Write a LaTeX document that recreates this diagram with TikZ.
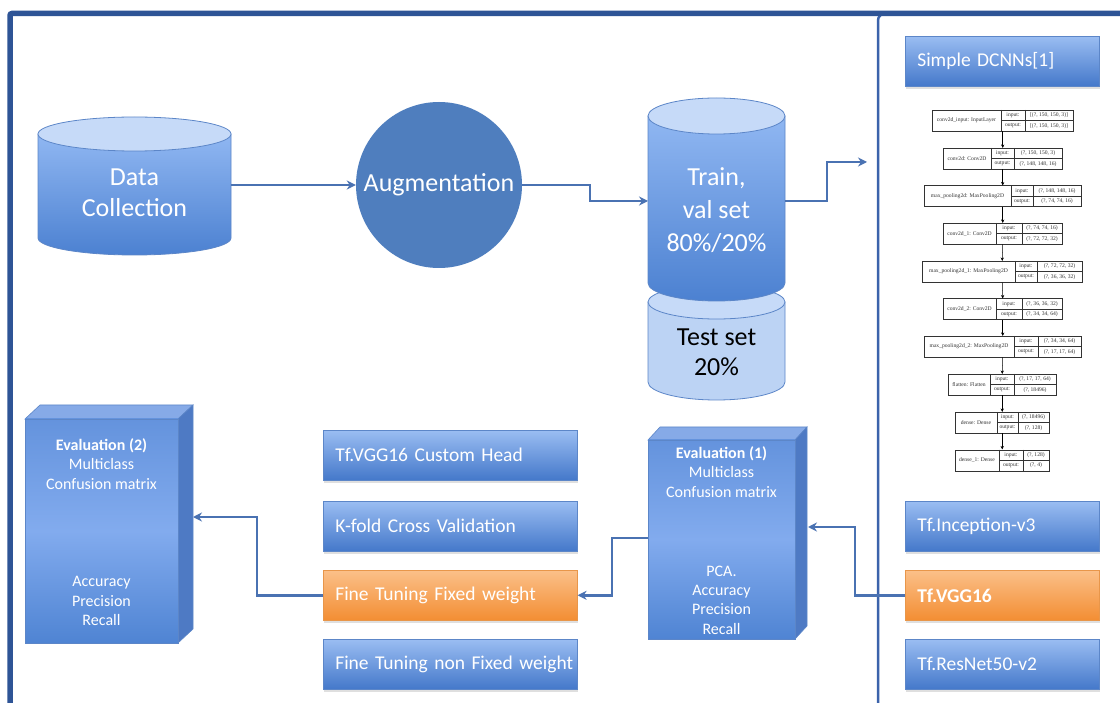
\documentclass[tikz,border=0pt]{standalone}
\usepackage{fontspec}
\setmainfont{Carlito}
\newfontfamily\kfont{Liberation Serif}
\usetikzlibrary{arrows.meta,shadows}
\definecolor{frameblue}{HTML}{2E5496}
\definecolor{divblue}{HTML}{3B63AB}
\definecolor{conncol}{HTML}{4A72B2}
\definecolor{boxtop}{HTML}{9ABDF2}
\definecolor{boxbot}{HTML}{4478CA}
\definecolor{boxedge}{HTML}{5C86C8}
\definecolor{ortop}{HTML}{FBC089}
\definecolor{orbot}{HTML}{F38E33}
\definecolor{oredge}{HTML}{E8964A}
\definecolor{augblue}{HTML}{4F7EBE}
\definecolor{cyllt}{HTML}{C6DAF8}
\definecolor{cyledge}{HTML}{5C86C8}
\definecolor{cyltop}{HTML}{90B7F2}
\definecolor{cylbot}{HTML}{4C81D1}
\definecolor{testbody}{HTML}{BCD3F4}
\definecolor{evtop}{HTML}{6493DD}
\definecolor{evmid}{HTML}{82ABEE}
\definecolor{evbot}{HTML}{4F84D3}
\definecolor{evside}{HTML}{4E7AC4}
\definecolor{evlid}{HTML}{86AAE7}
\definecolor{kcol}{HTML}{333333}
\tikzset{
  conn/.style={draw=conncol, line width=2.5pt, -{Stealth[length=9pt,width=9pt]}},
  bbox/.style={rectangle, draw=boxedge, line width=0.6pt, top color=boxtop, bottom color=boxbot,
    text=white, font=\fontsize{19.5}{23}\selectfont, align=left, inner xsep=12pt, inner ysep=0pt,
    minimum height=50pt, anchor=north west,
    drop shadow={shadow xshift=0.5pt, shadow yshift=-3pt, opacity=0.25}},
  wbox/.style={bbox, text width=170pt},
  mbox/.style={bbox, text width=230pt},
  orbox/.style={top color=ortop, bottom color=orbot, draw=oredge},
  bigtext/.style={text=white, align=center, font=\fontsize{26}{31}\selectfont},
  evtext/.style={text=white, align=center, font=\fontsize{16}{19.3}\selectfont},
  evface/.style={draw=boxedge, line width=0.6pt},
  cylbody/.style={draw=cyledge, line width=0.8pt, top color=cyltop, bottom color=cylbot},
  cyllid/.style={draw=cyledge, line width=0.8pt, fill=cyllt},
  kline/.style={draw=kcol, line width=0.45pt},
  ktext/.style={text=kcol, font=\kfont\fontsize{5.6}{6}\selectfont, inner sep=0pt},
  kcell/.style={draw=kcol, line width=0.45pt, fill=white, inner sep=0pt, anchor=north west},
  karrow/.style={draw=black, line width=0.5pt, -{Stealth[length=3.5pt,width=3.2pt]}},
}
\newcommand{\kbox}[9]{%
  \node[kcell, minimum width={(#6-#3)*1pt}, minimum height=21pt] (#1) at (#3,#2) {};
  \draw[kline] (#4,#2) -- (#4,{#2+21});
  \draw[kline] (#5,#2) -- (#5,{#2+21});
  \draw[kline] (#4,{#2+10.5}) -- (#6,{#2+10.5});
  \node[ktext] (#1n) at ({(#3+#4)/2},{#2+10.5}) {#7};
  \node[ktext] (#1il) at ({(#4+#5)/2},{#2+5.25}) {input:};
  \node[ktext] (#1ol) at ({(#4+#5)/2},{#2+15.75}) {output:};
  \node[ktext] (#1iv) at ({(#5+#6)/2},{#2+5.25}) {#8};
  \node[ktext] (#1ov) at ({(#5+#6)/2},{#2+15.75}) {#9};
}
\begin{document}
\begin{tikzpicture}[x=1pt,y=-1pt]
\useasboundingbox (0,0) rectangle (1120,703);
\fill[white] (0,0) rectangle (1120,703);

% frame and divider
\draw[divblue, line width=2.5pt, rounded corners=7pt] (895,13.5) -- (878,13.5) -- (878,710);
\draw[frameblue, line width=5.5pt, rounded corners=2pt] (1130,13.5) -- (10,13.5) -- (10,710);

% Data Collection cylinder
\path[cylbody] (38,134) -- (38,238) .. controls (38,247.4) and (81.2,255) .. (134.5,255)
  .. controls (187.8,255) and (231,247.4) .. (231,238) -- (231,134) -- cycle;
\path[cyllid] (134.5,134) ellipse [x radius=96.5, y radius=17];
\node[bigtext] (data) at (134.5,193) {Data\\Collection};
\coordinate (dataOut) at (231,185);

% Augmentation
\node[circle, fill=augblue, minimum size=166pt, inner sep=0pt, text=white,
  font=\fontsize{26}{31}\selectfont] (aug) at (439,185) {Augmentation};

% Test set cylinder
\path[draw=cyledge, line width=0.8pt, fill=testbody] (648,302) -- (648,382)
  .. controls (648,391.9) and (678.7,400) .. (716.5,400)
  .. controls (754.3,400) and (785,391.9) .. (785,382) -- (785,302) -- cycle;
\path[cyllid] (716.5,302) ellipse [x radius=68.5, y radius=17];
\node[align=center, text=black, font=\fontsize{26}{30}\selectfont] (test) at (716.5,352) {Test set\\20\%};

% Train cylinder
\path[cylbody] (648,116) -- (648,283)
  .. controls (648,292.9) and (678.7,301) .. (716.5,301)
  .. controls (754.3,301) and (785,292.9) .. (785,283) -- (785,116) -- cycle;
\path[cyllid] (716.5,116) ellipse [x radius=68.5, y radius=18];
\node[bigtext, font=\fontsize{26}{33}\selectfont] (train) at (716.5,210) {Train,\\val set\\80\%/20\%};
\coordinate (trainIn) at (648,201);
\coordinate (trainOut) at (785,201);
\coordinate (panelIn) at (867,162);

% right panel boxes
\node[wbox] (dcnn) at (905,36) {Simple DCNNs[1]};
\node[wbox] (incep) at (905,501) {Tf.Inception-v3};
\node[wbox, orbox] (vgg) at (905,570) {\textbf{Tf.VGG16}};
\node[wbox] (resnet) at (905,639) {Tf.ResNet50-v2};

% middle boxes
\node[mbox] (head) at (323,430) {Tf.VGG16 Custom Head};
\node[mbox] (kfold) at (323,501) {K-fold Cross Validation};
\node[mbox, orbox] (fixed) at (323,570) {Fine Tuning Fixed weight};
\node[mbox] (nonfixed) at (323,639) {\mbox{Fine Tuning non Fixed weight}};

% Evaluation (1)
\path[evface, fill=evlid] (648,440) -- (660,427) -- (807,427) -- (795,440) -- cycle;
\path[evface, fill=evside] (795,440) -- (807,427) -- (807,626) -- (795,639) -- cycle;
\path[evface, top color=evtop, bottom color=evbot, middle color=evmid] (648,440) rectangle (795,639);
\node[evtext] (e1h) at (721.5,472) {\textbf{Evaluation (1)}\\Multiclass\\Confusion matrix};
\node[evtext] (e1b) at (721.5,600) {PCA.\\Accuracy\\Precision\\Recall};
\coordinate (e1in) at (808,527);
\coordinate (e1out) at (648,538);

% Evaluation (2)
\path[evface, fill=evlid] (25,419) -- (40,405) -- (193,405) -- (178,419) -- cycle;
\path[evface, fill=evside] (178,419) -- (193,405) -- (193,629) -- (178,643) -- cycle;
\path[evface, top color=evtop, bottom color=evbot, middle color=evmid] (25,419) rectangle (178,643);
\node[evtext] (e2h) at (101.5,464) {\textbf{Evaluation (2)}\\Multiclass\\Confusion matrix};
\node[evtext] (e2b) at (101.5,601) {Accuracy\\Precision\\Recall};
\coordinate (e2in) at (193,517);

% connectors
\draw[conn] (dataOut) -- (aug.west);
\draw[conn] (aug.east) -- (590,185) |- (trainIn);
\draw[conn] (trainOut) -- (827,201) |- (panelIn);
\draw[conn] (vgg.west) -- ++(-50,0) |- (e1in);
\draw[conn] (e1out) -- ++(-36,0) |- (fixed.east);
\draw[conn] (fixed.west) -- ++(-66,0) |- (e2in);

% Keras model plot
\kbox{k1}{110}{932}{1001}{1025}{1073}{conv2d\_input: InputLayer}{[(?, 150, 150, 3)]}{[(?, 150, 150, 3)]}
\kbox{k2}{148}{943}{991}{1014}{1062}{conv2d: Conv2D}{(?, 150, 150, 3)}{(?, 148, 148, 16)}
\kbox{k3}{185.5}{924}{1011}{1033}{1081}{max\_pooling2d: MaxPooling2D}{(?, 148, 148, 16)}{(?, 74, 74, 16)}
\kbox{k4}{223}{943}{996}{1022}{1062}{conv2d\_1: Conv2D}{(?, 74, 74, 16)}{(?, 72, 72, 32)}
\kbox{k5}{261}{922}{1015}{1037}{1082}{max\_pooling2d\_1: MaxPooling2D}{(?, 72, 72, 32)}{(?, 36, 36, 32)}
\kbox{k6}{298.5}{943}{996}{1022}{1062}{conv2d\_2: Conv2D}{(?, 36, 36, 32)}{(?, 34, 34, 64)}
\kbox{k7}{336}{924}{1014}{1038}{1081}{max\_pooling2d\_2: MaxPooling2D}{(?, 34, 34, 64)}{(?, 17, 17, 64)}
\kbox{k8}{374}{948}{990}{1014}{1056}{flatten: Flatten}{(?, 17, 17, 64)}{(?, 18496)}
\kbox{k9}{412}{955}{997}{1018}{1049}{dense: Dense}{(?, 18496)}{(?, 128)}
\kbox{k10}{449.5}{955}{999}{1023}{1049}{dense\_1: Dense}{(?, 128)}{(?, 4)}
\foreach \a/\b in {k1/k2,k2/k3,k3/k4,k4/k5,k5/k6,k6/k7,k7/k8,k8/k9,k9/k10}
  \draw[karrow] (\a.south) -- (\b.north);
\end{tikzpicture}
\end{document}
